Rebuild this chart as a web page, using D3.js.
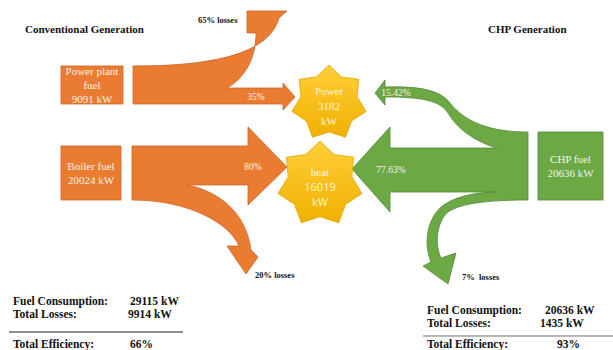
<!DOCTYPE html>
<html>
<head>
<meta charset="utf-8">
<script src="https://cdn.jsdelivr.net/npm/d3@7"></script>
<style>
  html, body { margin: 0; padding: 0; background: #fff; }
  svg text { font-family: "Liberation Serif", "Times New Roman", serif; }
</style>
</head>
<body>
<div id="chart"></div>
<script>
// values
var titles = ["Conventional Generation", "CHP Generation"];
var fuelNames = [["Power plant", "fuel"], ["Boiler fuel"], ["CHP fuel"]];
var fuelKW = [9091, 20024, 20636];
var outputNames = ["Power", "heat"];
var outputKW = [3182, 16019];
var flowLabels = ["65% losses", "35%", "80%", "20% losses", "15.42%", "77.63%", "7%  losses"];
var summaryNames = ["Fuel Consumption:", "Total Losses:", "Total Efficiency:"];
var convSummary = ["29115 kW", "9914 kW", "66%"];
var chpSummary = ["20636 kW", "1435 kW", "93%"];

var W = 613, H = 350;
var ORANGE = "#EA7C31", ORANGE_EDGE = "#C9652A";
var GREEN = "#6CA945", GREEN_EDGE = "#54883A";
var LIGHT = "#FDF1E6";

var svg = d3.select("#chart").append("svg")
    .attr("width", W)
    .attr("height", H);

var defs = svg.append("defs");
var grad = defs.append("linearGradient")
    .attr("id", "starFill")
    .attr("x1", 0).attr("y1", 0).attr("x2", 0).attr("y2", 1);
grad.append("stop").attr("offset", "0%").attr("stop-color", "#FFCF3A");
grad.append("stop").attr("offset", "100%").attr("stop-color", "#F0B000");

// ---- flow shapes (layout only) ----
var flowShapes = [
    // power plant fuel: 65% up as losses, 35% to power
    { d: "M133,66 C200,66 268,58 279,18 L287,11 L247,11 L247,33 L256,33 " +
         "C256,58 245,78 227,88 L283,88 L283,83 L295,97 L283,110 L283,104 L133,104 Z",
      fill: ORANGE, stroke: ORANGE_EDGE },
    // boiler fuel: 80% to heat, 20% losses down
    { d: "M132,146 L248,146 L248,127 L287,167 L248,205 L248,185 L187,185 " +
         "C215,190 246,210 251,250 L258,257 L246,274 L227,246 L239,246 " +
         "C230,224 190,200 132,200 Z",
      fill: ORANGE, stroke: ORANGE_EDGE },
    // CHP fuel: 15.42% power, 77.63% heat, 7% losses
    { d: "M528,132 L528,200 C490,200 455,203 445,215 C435,228 436,248 441,258 " +
         "L456,253 L448,284 L423,266 L431,262 C424,245 426,222 440,208 " +
         "C452,197 475,192 497,192 L390,192 L390,212 L352,169 L390,127 L390,148 L497,148 " +
         "C470,140 455,125 448,113 C440,100 420,97 385,97 L385,105 L375,93 L385,80 L385,87 " +
         "C420,86 440,90 450,103 C465,122 490,132 528,132 Z",
      fill: GREEN, stroke: GREEN_EDGE }
];

svg.append("g").attr("id", "flows")
    .selectAll("path")
    .data(flowShapes)
    .enter()
    .append("path")
    .attr("d", function(d) { return d.d; })
    .attr("fill", function(d) { return d.fill; })
    .attr("stroke", function(d) { return d.stroke; })
    .attr("stroke-width", 0.8)
    .attr("stroke-linejoin", "round");

// ---- fuel boxes ----
var boxes = [
    { x: 61, y: 66, w: 62, h: 38, fill: ORANGE, stroke: ORANGE_EDGE },
    { x: 61, y: 146, w: 60, h: 54, fill: ORANGE, stroke: ORANGE_EDGE },
    { x: 538, y: 132, w: 65, h: 68, fill: GREEN, stroke: GREEN_EDGE }
];

var boxG = svg.append("g").attr("id", "boxes")
    .selectAll("g")
    .data(boxes)
    .enter()
    .append("g");

boxG.append("rect")
    .attr("x", function(d) { return d.x; })
    .attr("y", function(d) { return d.y; })
    .attr("width", function(d) { return d.w; })
    .attr("height", function(d) { return d.h; })
    .attr("fill", function(d) { return d.fill; })
    .attr("stroke", function(d) { return d.stroke; })
    .attr("stroke-width", 0.8);

boxG.each(function(d, i) {
    var lines = fuelNames[i].concat([fuelKW[i] + " kW"]);
    var lh = 14;
    var cy = d.y + d.h / 2 - (lines.length - 1) * lh / 2;
    d3.select(this).selectAll("text")
        .data(lines)
        .enter()
        .append("text")
        .attr("x", d.x + d.w / 2)
        .attr("y", function(t, j) { return cy + j * lh; })
        .attr("dy", "0.35em")
        .attr("text-anchor", "middle")
        .attr("fill", i === 2 ? "#EEF6E8" : LIGHT)
        .style("font-size", "11px")
        .text(function(t) { return t; });
});

// ---- output stars (7 points) ----
var stars = [
    { cx: 329, cy: 103, r: 38 },
    { cx: 320, cy: 184, r: 43 }
];

function starPath(s) {
    var pts = d3.range(14).map(function(k) {
        var a = -Math.PI / 2 + k * Math.PI / 7;
        var rr = (k % 2 === 0) ? s.r : s.r * 0.76;
        return [s.cx + rr * Math.cos(a), s.cy + rr * Math.sin(a)];
    });
    return d3.line()(pts) + "Z";
}

var starG = svg.append("g").attr("id", "stars")
    .selectAll("g")
    .data(stars)
    .enter()
    .append("g");

starG.append("path")
    .attr("d", starPath)
    .attr("fill", "url(#starFill)")
    .attr("stroke", "#E3A400")
    .attr("stroke-width", 0.8);

starG.each(function(s, i) {
    var lines = [outputNames[i], String(outputKW[i]), "kW"];
    d3.select(this).selectAll("text")
        .data(lines)
        .enter()
        .append("text")
        .attr("x", s.cx)
        .attr("y", function(t, j) { return s.cy - 12 + j * 15; })
        .attr("dy", "0.35em")
        .attr("text-anchor", "middle")
        .attr("fill", "#FFF6D6")
        .style("font-size", "11px")
        .style("font-family", function(t, j) {
            return (i === 1 && j > 0) ? "'Open Sans', 'DejaVu Sans', sans-serif" : null;
        })
        .text(function(t) { return t; });
});

// ---- flow labels ----
var flowLabelPos = [
    { x: 198, y: 20, anchor: "start", dark: true },
    { x: 256, y: 97, anchor: "middle" },
    { x: 253, y: 167, anchor: "middle" },
    { x: 255, y: 275, anchor: "start", dark: true },
    { x: 396, y: 93, anchor: "middle" },
    { x: 391, y: 170, anchor: "middle" },
    { x: 462, y: 277, anchor: "start", dark: true }
];

svg.append("g").attr("id", "flow-labels")
    .selectAll("text")
    .data(flowLabels)
    .enter()
    .append("text")
    .attr("x", function(d, i) { return flowLabelPos[i].x; })
    .attr("y", function(d, i) { return flowLabelPos[i].y; })
    .attr("dy", "0.35em")
    .attr("text-anchor", function(d, i) { return flowLabelPos[i].anchor; })
    .attr("fill", function(d, i) { return flowLabelPos[i].dark ? "#111" : LIGHT; })
    .style("font-weight", function(d, i) { return flowLabelPos[i].dark ? "bold" : "normal"; })
    .style("font-size", function(d, i) { return flowLabelPos[i].dark ? "8.5px" : "9.5px"; })
    .style("white-space", "pre")
    .text(function(d) { return d; });

// ---- titles ----
svg.append("g").attr("id", "titles")
    .selectAll("text")
    .data(titles)
    .enter()
    .append("text")
    .attr("x", function(d, i) { return i === 0 ? 25 : 488; })
    .attr("y", 29)
    .attr("dy", "0.35em")
    .attr("fill", "#111")
    .style("font-weight", "bold")
    .style("font-size", "11px")
    .text(function(d) { return d; });

// ---- summaries ----
var summaries = [
    { values: convSummary, x: 13, vx: [130, 128, 130], y: 301, lineY: 332, x2: 183, effY: 344, lineColor: "#222" },
    { values: chpSummary, x: 427, vx: [545, 540, 557], y: 310, lineY: 336, x2: 613, effY: 344, lineColor: "#777" }
];

var sumG = svg.append("g").attr("id", "summaries")
    .selectAll("g")
    .data(summaries)
    .enter()
    .append("g");

sumG.each(function(s) {
    var g = d3.select(this);
    var ys = [s.y, s.y + 13, s.effY];
    g.append("line")
        .attr("x1", s.x - 4).attr("x2", s.x2)
        .attr("y1", s.lineY).attr("y2", s.lineY)
        .attr("stroke", s.lineColor)
        .attr("stroke-width", 1.2);
    summaryNames.forEach(function(name, j) {
        g.append("text")
            .attr("x", s.x).attr("y", ys[j]).attr("dy", "0.35em")
            .attr("fill", "#111")
            .style("font-weight", "bold").style("font-size", "11.5px")
            .text(name);
        g.append("text")
            .attr("x", s.vx[j]).attr("y", ys[j]).attr("dy", "0.35em")
            .attr("fill", "#111")
            .style("font-weight", "bold").style("font-size", "11.5px")
            .text(s.values[j]);
    });
});
</script>
</body>
</html>
